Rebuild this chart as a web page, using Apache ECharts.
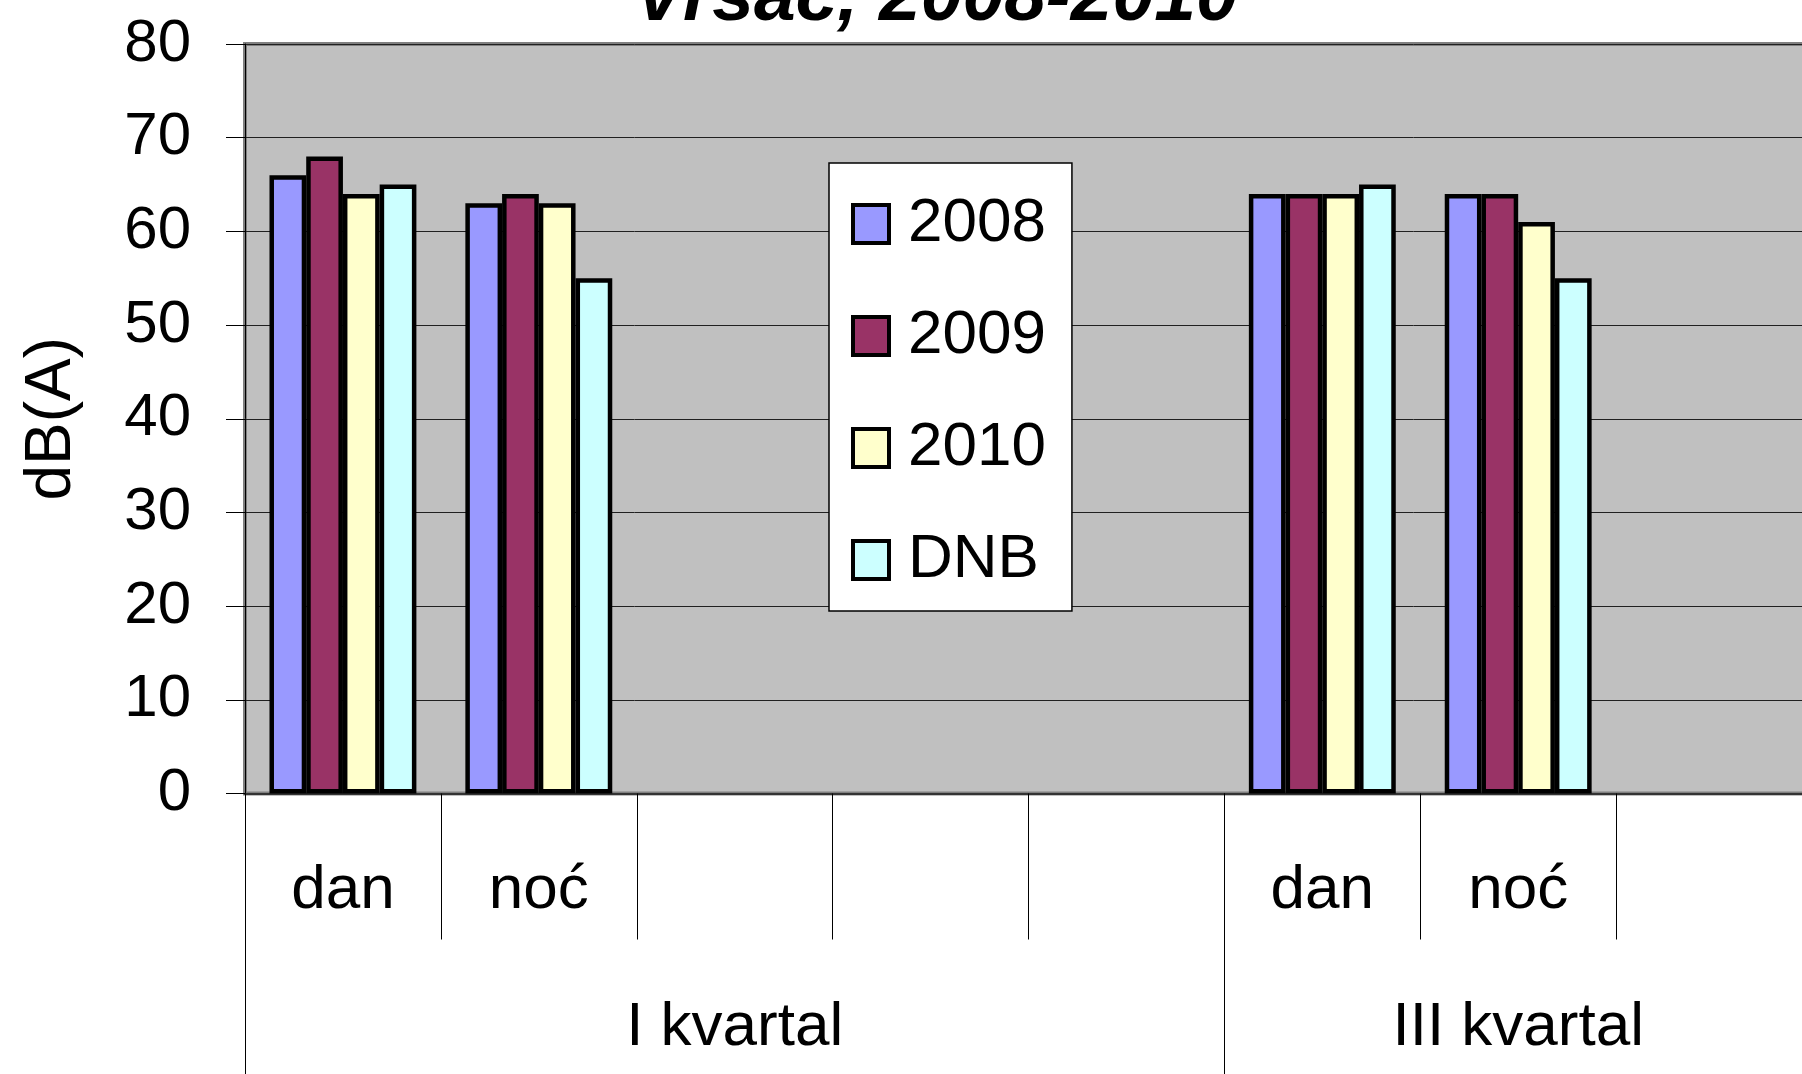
<!DOCTYPE html>
<html>
<head>
<meta charset="utf-8">
<script src="https://cdn.jsdelivr.net/npm/echarts@6/dist/echarts.min.js"></script>
<style>
  html, body { margin: 0; padding: 0; background: #fff; }
  #main { width: 1802px; height: 1074px; }
</style>
</head>
<body>
<div id="main"></div>
<script>
  const font = "'Liberation Sans', Arial, sans-serif"

  // first level categories and the quarter groups under them
  const categories = ['dan', 'noć', '', '', '', 'dan', 'noć', '']
  const groups = ['', '', 'I kvartal', '', '', '', 'III kvartal', '']
  const seriesNames = ['2008', '2009', '2010', 'DNB']
  const colors = ['#9999FF', '#993366', '#FFFFCC', '#CCFFFF']

  const y2008 = [66, 63, null, null, null, 64, 64, null]
  const y2009 = [68, 64, null, null, null, 64, 64, null]
  const y2010 = [64, 63, null, null, null, 64, 61, null]
  const yDNB = [65, 55, null, null, null, 65, 55, null]

  const chart = echarts.init(document.getElementById('main'))

  const option = {
    animation: false,
    backgroundColor: '#fff',
    textStyle: { fontFamily: font },
    graphic: [
      {
        type: 'text',
        x: 936,
        y: -1,
        style: {
          text: 'Vršac, 2008-2010',
          font: 'italic bold 75px ' + font,
          fill: '#000',
          align: 'center',
          verticalAlign: 'middle'
        }
      }
    ],
    grid: {
      left: 245,
      right: -10,
      top: 44,
      bottom: 280.5,
      outerBoundsMode: 'none',
      show: true,
      backgroundColor: '#C0C0C0',
      borderColor: '#808080',
      borderWidth: 4
    },
    legend: {
      orient: 'vertical',
      left: 829,
      top: 163,
      icon: 'rect',
      itemWidth: 36,
      itemHeight: 38,
      itemGap: 50,
      padding: [30, 26, 20, 22],
      backgroundColor: '#fff',
      borderColor: '#000',
      borderWidth: 1.5,
      itemStyle: { borderColor: '#000', borderWidth: 4 },
      textStyle: {
        fontFamily: font,
        fontSize: 62,
        color: '#000',
        lineHeight: 62,
        padding: [0, 0, 0, 14]
      },
      data: seriesNames
    },
    xAxis: [
      {
        type: 'category',
        data: categories,
        position: 'bottom',
        axisLine: { show: true, lineStyle: { color: '#333', width: 2 } },
        axisTick: { show: true, length: 146, interval: 0, lineStyle: { color: '#000', width: 1 } },
        axisLabel: { interval: 0, margin: 66, fontSize: 62, color: '#000', fontFamily: font },
        splitLine: { show: false }
      },
      {
        type: 'category',
        data: groups,
        position: 'bottom',
        axisLine: { show: false },
        axisTick: {
          show: true,
          length: 320,
          interval: function (index) {
            return index === 0 || index === 5
          },
          lineStyle: { color: '#000', width: 1 }
        },
        axisLabel: { interval: 0, margin: 203, fontSize: 62, color: '#000', fontFamily: font },
        splitLine: { show: false }
      }
    ],
    yAxis: {
      type: 'value',
      min: 0,
      max: 80,
      interval: 10,
      name: 'dB(A)',
      nameLocation: 'middle',
      nameRotate: 90,
      nameGap: 161,
      nameTextStyle: { fontSize: 64, color: '#000', fontFamily: font },
      axisLine: { show: true, lineStyle: { color: '#000', width: 1 } },
      axisTick: { show: true, length: 19, lineStyle: { color: '#000', width: 1 } },
      axisLabel: { margin: 54, fontSize: 60, color: '#000', fontFamily: font },
      splitLine: { show: true, lineStyle: { color: '#202020', width: 1 } }
    },
    series: [y2008, y2009, y2010, yDNB].map(function (vals, i) {
      return {
        name: seriesNames[i],
        type: 'bar',
        xAxisIndex: 0,
        data: vals,
        barGap: '0%',
        barCategoryGap: '25%',
        itemStyle: { color: colors[i], borderColor: '#000', borderWidth: 4.5 }
      }
    })
  }

  chart.setOption(option)
</script>
</body>
</html>
